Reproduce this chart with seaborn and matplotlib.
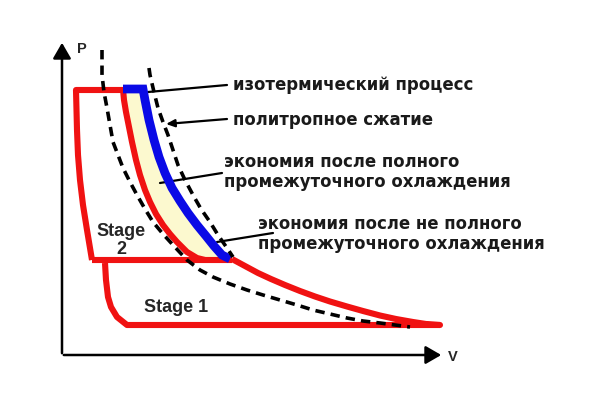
import numpy as np
import matplotlib
matplotlib.use("Agg")
import matplotlib.pyplot as plt
import seaborn as sns

sns.set_style("white")
plt.rcParams['font.family'] = ['Liberation Sans', 'DejaVu Sans']

s2_left_v = [92, 87, 83, 80, 78, 77, 76]
s2_left_p = [260, 230, 205, 180, 155, 130, 90]
s2_top_v = [76, 125]
s2_top_p = [90, 90]
s2_curve_v = [123, 124, 126, 129, 132, 136, 140, 145, 150, 156, 163, 170, 177, 187, 197, 205]
s2_curve_p = [89, 100, 112, 127, 142, 160, 175, 190, 202, 214, 225, 234, 242, 252, 258, 260]
s2_bottom_v = [92, 232]
s2_bottom_p = [260, 260]

blue_v = [123, 143, 145, 149, 154, 159, 165, 172, 180, 188, 197, 206, 214, 222, 230]
blue_p = [89, 89, 100, 120, 140, 157, 173, 188, 201, 213, 225, 236, 246, 255, 259]

s1_curve_v = [232, 245, 258, 271, 285, 300, 315, 330, 347, 363, 380, 396, 413, 426, 440]
s1_curve_p = [259, 266, 273, 279, 285, 291, 296.5, 301.5, 306.5, 311, 315.5, 319, 322, 324, 325]
s1_outline_v = [440, 127, 117, 111, 108, 106, 105]
s1_outline_p = [325, 325, 317, 307, 297, 280, 263]

iso_v = [102, 102, 104, 107, 110, 113, 118, 123, 130, 137, 145, 153, 163, 173, 187, 200,
         213, 230, 247, 263, 280, 297, 313, 330, 347, 363, 380, 395, 410]
iso_p = [50, 75, 92, 108, 125, 142, 155, 168, 182, 195, 209, 222, 234, 245, 260, 270,
         277, 284, 290, 295, 300, 305, 310, 314, 318, 321, 323, 325, 327]

poly_v = [149, 150, 154, 158, 163, 168, 173, 178, 185, 193, 201, 210, 218, 227, 233]
poly_p = [68, 75, 92, 108, 122, 135, 150, 165, 180, 195, 209, 222, 235, 248, 257]

labels = ["изотермический процесс", "политропное сжатие",
          "экономия после полного\nпромежуточного охлаждения",
          "экономия после не полного\nпромежуточного охлаждения"]
label_v = [233, 233, 224, 258]
label_p = [85, 120, 172, 234]
leader_from_v = [148, 166, 160, 217]
leader_from_p = [92, 124, 183, 242]
leader_to_v = [227, 227, 222, 273]
leader_to_p = [85, 119, 173, 233]

fig = plt.figure(figsize=(6, 4), dpi=100)
ax = fig.add_axes([0, 0, 1, 1])
ax.set_xlim(0, 600)
ax.set_ylim(400, 0)
ax.axis("off")

RED = "#f01212"
BLUE = "#0a0ae6"

# light fill between inner compression curve and blue curve
fill_v = list(s2_curve_v) + list(blue_v[::-1])
fill_p = list(s2_curve_p) + list(blue_p[::-1])
ax.fill(fill_v, fill_p, color="#fcf9cf", zorder=1, lw=0)

red_kw = dict(color=RED, lw=4.4, solid_capstyle="butt", solid_joinstyle="round", zorder=3)
for v, p in [(s2_left_v + s2_top_v, s2_left_p + s2_top_p),
             (s2_curve_v, s2_curve_p),
             (s2_bottom_v, s2_bottom_p),
             (s1_curve_v + s1_outline_v, s1_curve_p + s1_outline_p)]:
    sns.lineplot(x=v, y=p, sort=False, estimator=None, ax=ax, **red_kw)

sns.lineplot(x=blue_v, y=blue_p, sort=False, estimator=None, ax=ax,
             color=BLUE, lw=6.3, solid_joinstyle="miter", solid_capstyle="butt", zorder=4)

for v, p in [(iso_v, iso_p), (poly_v, poly_p)]:
    sns.lineplot(x=v, y=p, sort=False, estimator=None, ax=ax, color="black",
                 lw=2.6, linestyle=(0, (2.6, 1.7)), zorder=5)

# axes with arrows
ax.annotate("", xy=(62, 40), xytext=(62, 356),
            arrowprops=dict(arrowstyle="-|>,head_length=0.95,head_width=0.55", color="black", lw=1.8))
ax.annotate("", xy=(444, 355), xytext=(61, 355),
            arrowprops=dict(arrowstyle="-|>,head_length=0.95,head_width=0.55", color="black", lw=1.8))
ax.text(77, 49, "P", fontsize=10.5, fontweight="bold", va="center", ha="left")
ax.text(448, 357, "V", fontsize=10.5, fontweight="bold", va="center", ha="left")

# leader lines and labels
for i, (t, lv, lp) in enumerate(zip(labels, label_v, label_p)):
    style = "<|-,head_length=0.5,head_width=0.22" if i == 1 else "-"
    ax.annotate("", xy=(leader_to_v[i], leader_to_p[i]),
                xytext=(leader_from_v[i], leader_from_p[i]),
                arrowprops=dict(arrowstyle=style, color="black", lw=1.6,
                                shrinkA=0, shrinkB=0))
    ax.text(lv, lp, t, fontsize=11.9, fontweight="bold", va="center", ha="left",
            color="#1a1a1a", linespacing=1.12, family=["DejaVu Sans"])

ax.text(121, 232, "Stage", fontsize=13, fontweight="bold", ha="center", va="center")
ax.text(121, 249, "2", fontsize=13, fontweight="bold", ha="center", va="center")
ax.text(176, 307, "Stage 1", fontsize=13, fontweight="bold", ha="center", va="center")

fig.savefig("out.png", dpi=100, facecolor="white")
